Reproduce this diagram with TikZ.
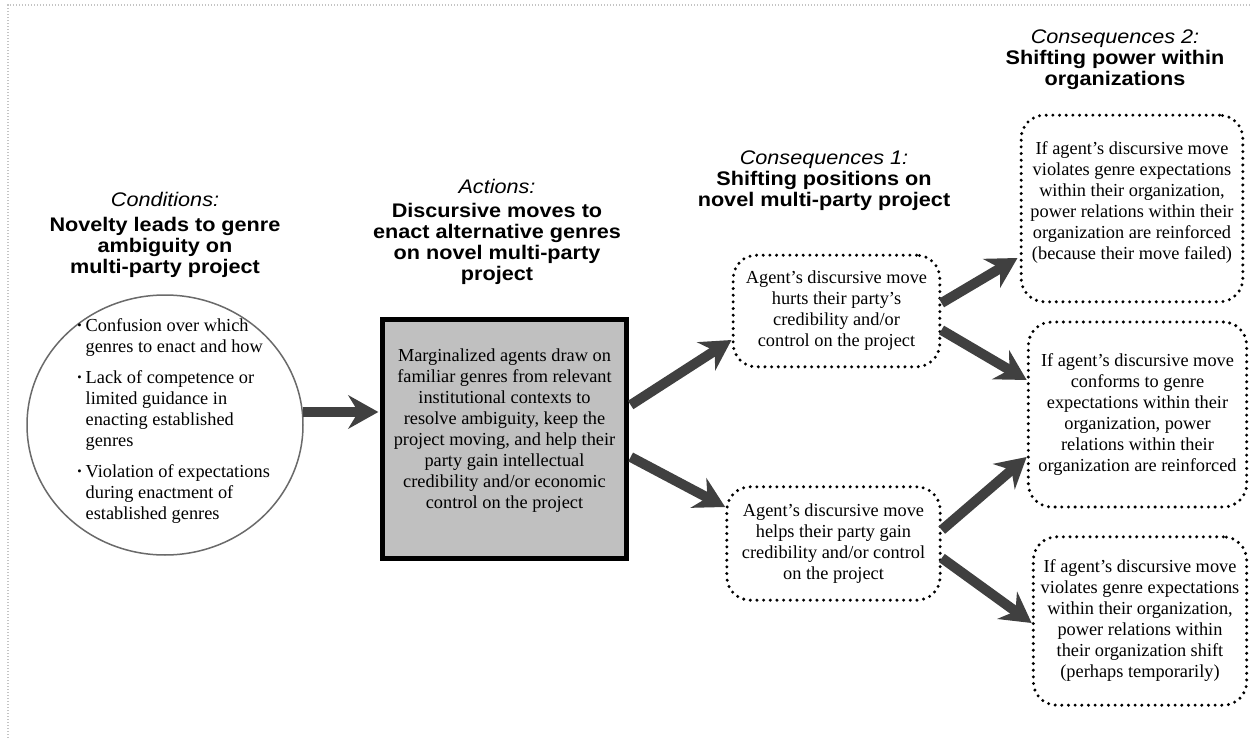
\documentclass[tikz,border=0pt]{standalone}
\usepackage{fontspec}
\setmainfont{Liberation Serif}
\newfontfamily\headfont[FakeStretch=1.1]{Liberation Sans}
\usetikzlibrary{arrows.meta,shapes.geometric,calc}
\definecolor{arrowgray}{HTML}{404040}
\definecolor{boxgray}{HTML}{C0C0C0}
\definecolor{framegray}{HTML}{C4C4C4}
\definecolor{ringgray}{HTML}{6A6A6A}
\newcommand{\bul}{\makebox[5pt][l]{\raisebox{1.2pt}{\fontsize{7.5}{7.5}\selectfont\textbullet}}}
\newcommand{\ind}{\hspace*{5pt}}
\begin{document}
\begin{tikzpicture}[x=0.6pt,y=-0.6pt,
  header/.style={align=center,font=\headfont\fontsize{11.8}{12.6}\selectfont,inner sep=0pt},
  body/.style={font=\fontsize{11}{12.6}\selectfont,inner sep=0pt},
  dotbox/.style={draw=black,rounded corners=14pt,line width=2pt,dash pattern=on 0pt off 4pt,line cap=round,align=center,body},
  bigarrow/.style={draw=arrowgray,line width=6pt,-{Stealth[length=18pt,width=20pt,inset=6pt]}}
]
\useasboundingbox (0,0) rectangle (1250,738);
\fill[white] (0,0) rectangle (1250,738);
\draw[framegray,line width=0.8pt,densely dotted] (8,738) -- (8,5) -- (1250,5);

% headers
\node[header] (hcond) at (165,235) {\textit{Conditions:}\\[2pt]\textbf{Novelty leads to genre}\\\textbf{ambiguity on}\\\textbf{multi-party project}};
\node[header] (hact) at (497,232) {\textit{Actions:}\\[2pt]\textbf{Discursive moves to}\\\textbf{enact alternative genres}\\\textbf{on novel multi-party}\\\textbf{project}};
\node[header] (hc1) at (824,181) {\textit{Consequences 1:}\\\textbf{Shifting positions on}\\\textbf{novel multi-party project}};
\node[header] (hc2) at (1115,60) {\textit{Consequences 2:}\\\textbf{Shifting power within}\\\textbf{organizations}};

% conditions
\node[ellipse,draw=ringgray,line width=0.9pt,minimum width=165.6pt,minimum height=156pt,inner sep=0pt] (cond) at (165,425) {};
\node[body,align=left,anchor=west] (condtext) at (77,421) {\bul Confusion over which\\\ind genres to enact and how\\[6pt]\bul Lack of competence or\\\ind limited guidance in\\\ind enacting established\\\ind genres\\[6pt]\bul Violation of expectations\\\ind during enactment of\\\ind established genres};

% actions
\node[draw=black,fill=boxgray,line width=3pt,minimum width=146pt,minimum height=143pt,inner sep=0pt,body,align=center] (act) at (504.5,439) {Marginalized agents draw on\\familiar genres from relevant\\institutional contexts to\\resolve ambiguity, keep the\\project moving, and help their\\party gain intellectual\\credibility and/or economic\\control on the project\\[-0.6pt]\mbox{}};

% consequences 1
\node[dotbox,minimum width=124pt,minimum height=67pt] (c1a) at (836.5,311) {Agent’s discursive move\\hurts their party’s\\credibility and/or\\control on the project};
\node[dotbox,minimum width=128pt,minimum height=68pt] (c1b) at (833.5,543.5) {Agent’s discursive move\\helps their party gain\\credibility and/or control\\on the project};

% consequences 2
\node[dotbox,minimum width=133pt,minimum height=112pt] (c2a) at (1132,208.5) {If agent’s discursive move\\violates genre expectations\\within their organization,\\power relations within their\\organization are reinforced\\(because their move failed)\\[-3pt]\mbox{}};
\node[dotbox,minimum width=131pt,minimum height=111pt] (c2b) at (1137.5,414.5) {If agent’s discursive move\\conforms to genre\\expectations within their\\organization, power\\relations within their\\organization are reinforced};
\node[dotbox,minimum width=128pt,minimum height=101pt] (c2c) at (1140,621) {If agent’s discursive move\\violates genre expectations\\within their organization,\\power relations within\\their organization shift\\(perhaps temporarily)};

% arrows
\draw[bigarrow] ($(cond.east)+(-1,-13)$) -- ($(act.west)+(-2,-27)$);
\draw[bigarrow] ($(act.east)+(2,-34)$) -- ($(c1a.west)+(0,29)$);
\draw[bigarrow] ($(act.east)+(2,18)$) -- ($(c1b.west)+(0,-36.5)$);
\draw[bigarrow] ($(c1a.east)+(0,-8)$) -- ($(c2a.west)+(-2,49.5)$);
\draw[bigarrow] ($(c1a.east)+(0,19)$) -- ($(c2b.west)+(0,-34.5)$);
\draw[bigarrow] ($(c1b.east)+(0,-13.5)$) -- ($(c2b.west)+(0,42.5)$);
\draw[bigarrow] ($(c1b.east)+(0,14.5)$) -- ($(c2c.west)+(0,2)$);
\end{tikzpicture}
\end{document}
